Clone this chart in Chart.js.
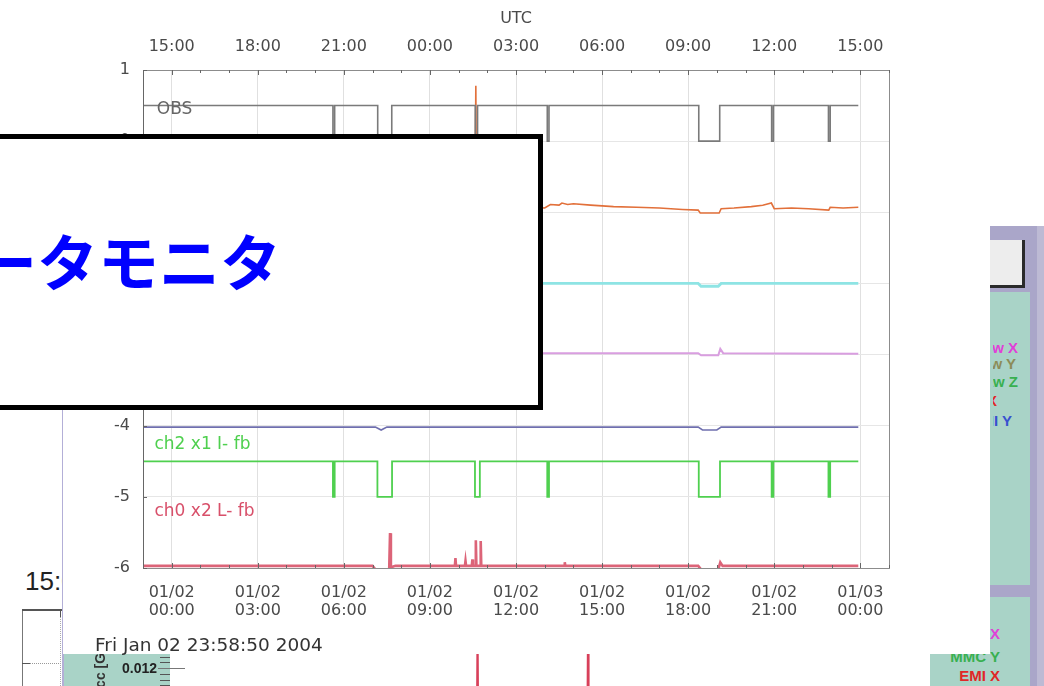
<!DOCTYPE html>
<html lang="ja">
<head>
<meta charset="utf-8">
<title>データモニタ</title>
<script src="https://cdn.jsdelivr.net/npm/chart.js@4.4.1/dist/chart.umd.min.js"></script>
<style>
  html, body { margin:0; padding:0; background:#fff; }
  body { width:1044px; height:686px; position:relative; overflow:hidden; font-family:"DejaVu Sans", sans-serif; }
  .abs { position:absolute; }
  /* neighbouring control column on the right */
  #side { left:985px; top:226px; width:59px; height:460px; background:#aaa6c9; }
  #sideStrip { left:1037px; top:226px; width:7px; height:460px; background:#bdbad4; }
  #btn { left:975px; top:240px; width:47px; height:45px; background:#ededed; border-right:3px solid #2a2a2a; border-bottom:3px solid #2a2a2a; }
  #teal1 { left:975px; top:292px; width:55px; height:293px; background:#a9d3c7; }
  #teal2 { left:930px; top:597px; width:100px; height:89px; background:#a9d3c7; }
  #chan { left:993px; top:330px; width:40px; height:110px; overflow:hidden; }
  .lbl { position:absolute; font:bold 15px "Liberation Sans", Arial, sans-serif; white-space:nowrap; transform:translateY(-50%); }
  /* lower strip */
  #tealL { left:64px; top:654px; width:106px; height:32px; background:#a9d3c7; }
  #lav { left:62px; top:405px; width:2px; height:281px; background:#b3afd7; }
  #lower { left:63px; top:654px; }
  .tk { position:absolute; height:1px; background:#555; }
  #val { left:100px; top:668px; width:57px; text-align:right; font:bold 14px "Liberation Sans", Arial, sans-serif; color:#222; transform:translateY(-50%); }
  #axisName { left:92px; top:698px; font:bold 14px "Liberation Sans", Arial, sans-serif; color:#333; transform-origin:0 0; transform:rotate(-90deg); white-space:nowrap; }
  /* left neighbour */
  #clock { left:25px; top:581px; font:26px "Liberation Sans", Arial, sans-serif; color:#222; transform:translateY(-50%); }
  /* main chart panel */
  #panel { left:63px; top:0; width:927px; height:654px; background:#fff; z-index:2; }
  #main { position:absolute; left:0; top:0; }
  #stamp { position:absolute; left:32px; top:644px; transform:translateY(-50%); font:18.5px "DejaVu Sans", sans-serif; color:#333; white-space:nowrap; }
  /* title box */
  #note { left:-10px; top:134px; width:553px; height:276px; box-sizing:border-box; border:5px solid #000; background:#fff; overflow:hidden; z-index:3; }
  #note span { position:absolute; left:-80px; top:90px; font:700 61px "Noto Sans CJK JP", sans-serif; color:#0000ff; line-height:1; white-space:nowrap; }
</style>
</head>
<body>
  <div id="side" class="abs"></div>
  <div id="sideStrip" class="abs"></div>
  <div id="btn" class="abs"></div>
  <div id="teal1" class="abs"></div>
  <div id="teal2" class="abs"></div>
  <div id="chan" class="abs">
    <div class="lbl" style="right:15px;top:17px;color:#e040d8">Raw X</div>
    <div class="lbl" style="right:17px;top:33px;color:#8c8c58">Raw Y</div>
    <div class="lbl" style="right:15px;top:51px;color:#38b050">Raw Z</div>
    <div class="lbl" style="right:36px;top:70px;color:#e02828">EMI X</div>
    <div class="lbl" style="right:21px;top:90px;color:#3850d0">EMI Y</div>
  </div>
  <div class="lbl" style="right:44px;top:633px;color:#e040d8">MAG X</div>
  <div class="lbl" style="right:44px;top:656px;color:#38b050">MMC Y</div>
  <div class="lbl" style="right:44px;top:675px;color:#e02828">EMI X</div>

  <div id="clock" class="abs">15:00</div>
  <div class="abs" style="left:22px;top:609px;width:41px;height:2px;background:#555"></div>
  <div class="abs" style="left:22px;top:611px;width:1px;height:75px;background:#777"></div>
  <div class="abs" style="left:60px;top:611px;width:1px;height:6px;background:#555"></div>
  <div class="abs" style="left:22px;top:663px;width:8px;height:1px;background:#555"></div>
  <div class="abs" style="left:30px;top:663px;width:33px;height:0;border-top:1px dotted #999"></div>
  <div class="abs" style="left:60px;top:617px;width:0;height:69px;border-left:1px dotted #aaa"></div>

  <canvas id="lower" class="abs" width="927" height="32"></canvas>
  <div id="tealL" class="abs"></div>
  <div id="lav" class="abs"></div>
  <div id="axisName" class="abs">Acc [G]</div>
  <div id="val" class="abs">0.012</div>
  <div class="tk" style="left:160px;top:657px;width:10px"></div>
  <div class="tk" style="left:160px;top:662px;width:10px"></div>
  <div class="tk" style="left:158px;top:668px;width:27px;background:#777"></div>
  <div class="tk" style="left:160px;top:674px;width:10px"></div>
  <div class="tk" style="left:160px;top:680px;width:10px"></div>
  <div class="tk" style="left:160px;top:685px;width:10px"></div>

  <div id="panel" class="abs">
    <canvas id="main" width="927" height="630"></canvas>
    <div id="stamp">Fri Jan 02 23:58:50 2004</div>
  </div>

  <div id="note" class="abs"><span>データモニタ</span></div>

<script>
// Time axis in hours from 01/02 00:00 JST (UTC+9)
const hourTicks = [0, 3, 6, 9, 12, 15, 18, 21, 24];
const utcLabels = ['15:00', '18:00', '21:00', '00:00', '03:00', '06:00', '09:00', '12:00', '15:00'];
const jstLabels = [
  ['01/02', '00:00'], ['01/02', '03:00'], ['01/02', '06:00'], ['01/02', '09:00'], ['01/02', '12:00'],
  ['01/02', '15:00'], ['01/02', '18:00'], ['01/02', '21:00'], ['01/03', '00:00']
];
const levelTicks = [1, 0, -1, -2, -3, -4, -5, -6];
const traceNames = ['OBS', 'ch2 x1 I- fb', 'ch0 x2 L- fb'];

// [hour, offset level] samples for each trace
const obsTrace = [[-1, 0.5], [5.62, 0], [5.68, 0.5], [7.18, 0], [7.67, 0.5], [10.58, 0], [10.66, 0.5],
  [13.09, 0], [13.15, 0.5], [18.37, 0], [19.10, 0.5], [20.91, 0], [20.97, 0.5], [22.89, 0], [22.95, 0.5], [23.93, 0.5]];
const orangeTrace = [[-1, -0.93], [1.0, -0.92], [2.5, -0.93], [4.0, -0.92], [5.6, -0.93], [7.2, -0.92], [9.0, -0.93],
  [10.57, -0.93], [10.6, 0.78], [10.62, -0.93], [12.0, -0.92], [13.0, -0.94], [13.2, -0.89], [13.5, -0.90], [13.6, -0.87],
  [13.8, -0.89], [14.0, -0.88], [14.6, -0.90], [15.4, -0.92], [16.2, -0.93], [17.0, -0.94], [17.8, -0.96], [18.35, -0.97],
  [18.42, -1.01], [19.08, -1.01], [19.15, -0.95], [19.6, -0.94], [20.2, -0.92], [20.6, -0.90], [20.9, -0.87], [21.0, -0.95],
  [21.6, -0.94], [22.2, -0.95], [22.9, -0.97], [22.95, -0.93], [23.4, -0.94], [23.93, -0.93]];
const cyanTrace = [[-1, -2.0], [18.35, -2.0], [18.45, -2.04], [19.05, -2.04], [19.15, -2.0], [23.93, -2.0]];
const violetTrace = [[-1, -2.98], [18.35, -2.98], [18.45, -3.01], [19.05, -3.01], [19.12, -2.92], [19.22, -2.98], [23.93, -2.99]];
const blueTrace = [[-1, -4.02], [7.1, -4.02], [7.3, -4.06], [7.5, -4.02], [18.35, -4.02], [18.5, -4.06], [19.0, -4.06],
  [19.15, -4.02], [23.93, -4.02]];
const greenTrace = [[-1, -4.5], [5.62, -5], [5.68, -4.5], [7.17, -5], [7.68, -4.5], [10.57, -5], [10.74, -4.5],
  [13.09, -5], [13.15, -4.5], [18.37, -5], [19.11, -4.5], [20.91, -5], [20.97, -4.5], [22.89, -5], [22.95, -4.5], [23.93, -4.5]];
const redTrace = [[-1, -5.97], [7.0, -5.97], [7.1, -6.02], [7.58, -6.02], [7.61, -5.51], [7.64, -5.99], [7.8, -5.97],
  [9.87, -5.97], [9.89, -5.86], [9.91, -5.97], [10.22, -5.97], [10.24, -5.90], [10.26, -5.97], [10.46, -5.97], [10.48, -5.88],
  [10.5, -5.97], [10.58, -5.97], [10.6, -5.61], [10.62, -5.97], [10.75, -5.97], [10.77, -5.62], [10.79, -5.97],
  [13.68, -5.97], [13.7, -5.92], [13.72, -5.97], [18.35, -5.97], [18.45, -6.02], [19.05, -6.02], [19.12, -5.92],
  [19.2, -5.97], [23.93, -5.97]];
// strip of the next panel below
const lowerTrace = [[-1, -1], [10.64, -1], [10.66, 2], [10.68, -1], [14.49, -1], [14.51, 2], [14.53, -1], [23.93, -1]];

const toXY = arr => arr.map(([t, v]) => ({ x: t, y: v }));
const trace = (arr, color, width, extra) => Object.assign({
  data: toXY(arr), borderColor: color, borderWidth: width, pointRadius: 0, tension: 0, fill: false
}, extra || {});

const tickFont = { family: 'DejaVu Sans', size: 16, lineHeight: 1.125 };
const setHourTicks = s => { s.ticks = hourTicks.map(v => ({ value: v })); };

// frame, inward tick marks and trace names
const framePlugin = {
  id: 'frame',
  afterDatasetsDraw(chart) {
    const { ctx, chartArea: a, scales: { x, y } } = chart;
    ctx.save();
    ctx.lineWidth = 1;
    ctx.strokeStyle = '#8c8c8c';
    ctx.strokeRect(Math.round(a.left) + 0.5, Math.round(a.top) + 0.5, Math.round(a.right - a.left), Math.round(a.bottom - a.top));
    ctx.strokeStyle = '#666';
    ctx.beginPath();
    ctx.moveTo(Math.round(a.left) + 0.5, a.top); ctx.lineTo(Math.round(a.left) + 0.5, a.bottom);
    for (let h = Math.ceil(x.min); h <= x.max; h++) {
      const px = Math.round(x.getPixelForValue(h)) + 0.5;
      const len = hourTicks.includes(h) ? 5 : 3;
      ctx.moveTo(px, a.top); ctx.lineTo(px, a.top + len);
      ctx.moveTo(px, a.bottom); ctx.lineTo(px, a.bottom - len);
    }
    levelTicks.forEach(v => {
      const py = Math.round(y.getPixelForValue(v)) + 0.5;
      ctx.moveTo(a.left, py); ctx.lineTo(a.left + 4, py);
    });
    ctx.stroke();

    ctx.font = '17px "DejaVu Sans"';
    ctx.textBaseline = 'middle';
    ctx.textAlign = 'left';
    const anchors = [[-0.52, 0.45, '#666'], [-0.6, -4.27, '#4fd04f'], [-0.6, -5.21, '#d8506a']];
    traceNames.forEach((name, i) => {
      const [t, v, c] = anchors[i];
      ctx.fillStyle = c;
      ctx.fillText(name, x.getPixelForValue(t), y.getPixelForValue(v));
    });
    ctx.restore();
  }
};

new Chart(document.getElementById('main'), {
  type: 'line',
  data: {
    datasets: [
      trace(obsTrace, '#7a7a7a', 1.6, { stepped: true }),
      trace(orangeTrace, '#e2703a', 1.6),
      trace(cyanTrace, '#8ee4e4', 2.8),
      trace(violetTrace, '#d99ee0', 2),
      trace(blueTrace, '#6f6fae', 1.6),
      trace(greenTrace, '#4fd04f', 1.8, { stepped: true }),
      trace(redTrace, '#dc6478', 2.6)
    ]
  },
  options: {
    responsive: false,
    animation: false,
    devicePixelRatio: 1,
    events: [],
    layout: { padding: { left: 0, right: 101, top: 0, bottom: 12 } },
    plugins: { legend: { display: false }, tooltip: { enabled: false } },
    scales: {
      x: {
        type: 'linear', position: 'bottom', min: -1, max: 25,
        afterBuildTicks: setHourTicks,
        afterFit: s => { s.height = 50; },
        ticks: { callback: (v, i) => jstLabels[i], font: tickFont, color: '#4a4a4a', padding: 16, maxRotation: 0, autoSkip: false },
        grid: { color: '#e0e0e0', drawTicks: false },
        border: { display: false }
      },
      xTop: {
        type: 'linear', position: 'top', min: -1, max: 25,
        afterBuildTicks: setHourTicks,
        afterFit: s => { s.height = 70; },
        ticks: { callback: (v, i) => utcLabels[i], font: tickFont, color: '#4a4a4a', padding: 14, maxRotation: 0, autoSkip: false },
        grid: { display: false, drawTicks: false },
        border: { display: false },
        title: { display: true, text: 'UTC', font: { family: 'DejaVu Sans', size: 16 }, color: '#4a4a4a', padding: { top: 9, bottom: 0 } }
      },
      y: {
        min: -6, max: 1,
        afterBuildTicks: s => { s.ticks = levelTicks.map(v => ({ value: v })); },
        afterFit: s => { s.width = 80; },
        ticks: { font: tickFont, color: '#4a4a4a', padding: 13 },
        grid: { color: '#e6e6e6', drawTicks: false },
        border: { display: false }
      }
    }
  },
  plugins: [framePlugin]
});

new Chart(document.getElementById('lower'), {
  type: 'line',
  data: { datasets: [trace(lowerTrace, '#d8405a', 2)] },
  options: {
    responsive: false, animation: false, devicePixelRatio: 1, events: [],
    layout: { padding: { left: 80, right: 101, top: 0, bottom: 0 } },
    plugins: { legend: { display: false }, tooltip: { enabled: false } },
    scales: { x: { type: 'linear', min: -1, max: 25, display: false }, y: { min: 0, max: 1, display: false } }
  }
});
</script>
</body>
</html>
